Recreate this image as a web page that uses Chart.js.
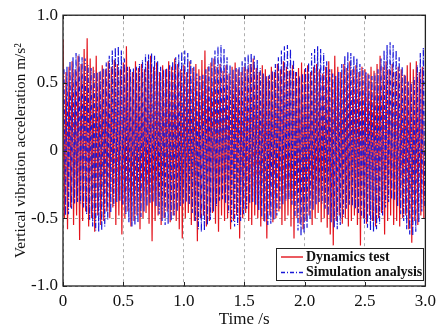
<!DOCTYPE html>
<html>
<head>
<meta charset="utf-8">
<script src="https://cdn.jsdelivr.net/npm/chart.js@4.4.1/dist/chart.umd.min.js"></script>
<style>
  body { margin: 0; background: #fff; }
  #wrap { width: 441px; height: 332px; }
</style>
</head>
<body>
<div id="wrap"><canvas id="myChart" width="441" height="332"></canvas></div>
<script>
// series names
var seriesNames = ['Dynamics test', 'Simulation analysis'];

// one oscillation cycle = 0.025 s, read as a peak then a trough
var cycle = 0.025;

// Dynamics test (red)
var testPeaks = [
    0.82, 0.58, 0.62, 0.66, 0.60, 0.70, 0.64, 0.75, 0.83, 0.68,
    0.62, 0.70, 0.58, 0.63, 0.60, 0.66, 0.62, 0.67, 0.64, 0.60,
    0.65, 0.77, 0.62, 0.58, 0.66, 0.61, 0.64, 0.60, 0.66, 0.70,
    0.62, 0.65, 0.58, 0.63, 0.60, 0.66, 0.62, 0.68, 0.64, 0.60,
    0.63, 0.58, 0.66, 0.61, 0.64, 0.60, 0.67, 0.74, 0.62, 0.65,
    0.68, 0.62, 0.64, 0.59, 0.63, 0.57, 0.62, 0.65, 0.60, 0.58,
    0.62, 0.60, 0.64, 0.68, 0.61, 0.58, 0.63, 0.60, 0.55, 0.62,
    0.58, 0.64, 0.60, 0.66, 0.62, 0.59, 0.63, 0.58, 0.61, 0.65,
    0.60, 0.63, 0.58, 0.62, 0.64, 0.60, 0.57, 0.62, 0.66, 0.60,
    0.70, 0.62, 0.58, 0.64, 0.61, 0.66, 0.60, 0.63, 0.58, 0.62,
    0.60, 0.57, 0.62, 0.59, 0.64, 0.70, 0.62, 0.66, 0.60, 0.64,
    0.58, 0.62, 0.60, 0.56, 0.63, 0.65, 0.60, 0.66, 0.58, 0.62
];
var testTroughs = [
    -0.50, -0.58, -0.42, -0.55, -0.48, -0.66, -0.52, -0.45, -0.56, -0.50,
    -0.60, -0.48, -0.55, -0.52, -0.45, -0.50, -0.42, -0.55, -0.48, -0.62,
    -0.50, -0.45, -0.56, -0.52, -0.48, -0.58, -0.50, -0.46, -0.54, -0.67,
    -0.52, -0.48, -0.55, -0.50, -0.45, -0.53, -0.48, -0.52, -0.58, -0.65,
    -0.50, -0.46, -0.55, -0.52, -0.67, -0.50, -0.48, -0.56, -0.52, -0.46,
    -0.54, -0.60, -0.48, -0.52, -0.50, -0.58, -0.52, -0.48, -0.65, -0.50,
    -0.46, -0.52, -0.55, -0.48, -0.50, -0.56, -0.52, -0.65, -0.48, -0.53,
    -0.50, -0.45, -0.55, -0.52, -0.48, -0.56, -0.65, -0.50, -0.54, -0.58,
    -0.52, -0.48, -0.55, -0.50, -0.46, -0.53, -0.50, -0.57, -0.62, -0.70,
    -0.52, -0.48, -0.54, -0.50, -0.56, -0.52, -0.48, -0.55, -0.70, -0.50,
    -0.54, -0.48, -0.52, -0.56, -0.50, -0.46, -0.62, -0.52, -0.48, -0.55,
    -0.52, -0.56, -0.50, -0.48, -0.58, -0.68, -0.52, -0.55, -0.48, -0.50
];

// Simulation analysis (blue)
var simPeaks = [
    0.60, 0.62, 0.66, 0.69, 0.72, 0.71, 0.69, 0.68, 0.63, 0.61,
    0.59, 0.58, 0.59, 0.61, 0.65, 0.70, 0.74, 0.76, 0.77, 0.74,
    0.68, 0.62, 0.60, 0.61, 0.62, 0.64, 0.67, 0.71, 0.71, 0.72,
    0.70, 0.66, 0.62, 0.60, 0.61, 0.63, 0.66, 0.69, 0.71, 0.73,
    0.74, 0.72, 0.67, 0.62, 0.57, 0.55, 0.56, 0.60, 0.64, 0.69,
    0.74, 0.77, 0.78, 0.75, 0.69, 0.63, 0.60, 0.61, 0.62, 0.66,
    0.69, 0.71, 0.72, 0.70, 0.67, 0.61, 0.57, 0.55, 0.56, 0.59,
    0.64, 0.69, 0.74, 0.77, 0.78, 0.75, 0.67, 0.58, 0.55, 0.57,
    0.61, 0.65, 0.72, 0.75, 0.77, 0.75, 0.72, 0.66, 0.60, 0.57,
    0.55, 0.58, 0.64, 0.70, 0.73, 0.72, 0.70, 0.68, 0.64, 0.61,
    0.58, 0.56, 0.55, 0.57, 0.60, 0.68, 0.74, 0.78, 0.80, 0.78,
    0.74, 0.69, 0.62, 0.56, 0.51, 0.50, 0.54, 0.63, 0.72, 0.76
];
var simTroughs = [
    -0.48, -0.47, -0.43, -0.39, -0.38, -0.39, -0.42, -0.47, -0.51, -0.56,
    -0.59, -0.60, -0.59, -0.56, -0.51, -0.46, -0.41, -0.38, -0.37, -0.40,
    -0.47, -0.53, -0.56, -0.55, -0.53, -0.49, -0.45, -0.41, -0.39, -0.38,
    -0.41, -0.47, -0.52, -0.55, -0.54, -0.52, -0.48, -0.45, -0.41, -0.39,
    -0.38, -0.40, -0.46, -0.52, -0.58, -0.60, -0.59, -0.55, -0.51, -0.45,
    -0.41, -0.37, -0.36, -0.39, -0.46, -0.53, -0.56, -0.55, -0.52, -0.47,
    -0.43, -0.39, -0.38, -0.40, -0.44, -0.49, -0.53, -0.55, -0.54, -0.51,
    -0.48, -0.43, -0.40, -0.37, -0.36, -0.40, -0.50, -0.59, -0.63, -0.61,
    -0.57, -0.51, -0.44, -0.40, -0.38, -0.39, -0.43, -0.48, -0.53, -0.57,
    -0.58, -0.55, -0.49, -0.43, -0.40, -0.41, -0.43, -0.46, -0.50, -0.54,
    -0.57, -0.59, -0.60, -0.58, -0.54, -0.48, -0.42, -0.38, -0.36, -0.37,
    -0.41, -0.47, -0.52, -0.58, -0.62, -0.63, -0.60, -0.53, -0.45, -0.42
];

// ticks
var xTicks = [0, 0.5, 1.0, 1.5, 2.0, 2.5, 3.0];
var xTickLabels = ['0', '0.5', '1.0', '1.5', '2.0', '2.5', '3.0'];
var yTicks = [-1.0, -0.5, 0, 0.5, 1.0];
var yTickLabels = ['-1.0', '-0.5', '0', '0.5', '1.0'];

var redColor = '#e3141c';
var blueColor = '#1818d8';
var serif = "'Liberation Serif', 'Times New Roman', serif";

function buildSeries(peaks, troughs, shift) {
    var pts = [];
    for (var i = 0; i < peaks.length; i++) {
        pts.push({ x: i * cycle + shift, y: peaks[i] });
        pts.push({ x: i * cycle + shift + cycle / 2, y: troughs[i] });
    }
    return pts;
}

// frame, inner tick marks and the boxed legend
var framePlugin = {
    id: 'frame',
    afterDraw: function (chart) {
        var ctx = chart.ctx;
        var a = chart.chartArea;
        var xs = chart.scales.x, ys = chart.scales.y;
        ctx.save();
        ctx.strokeStyle = '#222';
        ctx.lineWidth = 1.3;
        ctx.setLineDash([]);
        ctx.strokeRect(a.left, a.top, a.right - a.left, a.bottom - a.top);
        ctx.lineWidth = 1;
        ctx.beginPath();
        xTicks.forEach(function (v) {
            var px = Math.round(xs.getPixelForValue(v)) + 0.5;
            ctx.moveTo(px, a.bottom); ctx.lineTo(px, a.bottom - 4);
            ctx.moveTo(px, a.top); ctx.lineTo(px, a.top + 4);
        });
        yTicks.forEach(function (v) {
            var py = Math.round(ys.getPixelForValue(v)) + 0.5;
            ctx.moveTo(a.left, py); ctx.lineTo(a.left + 4, py);
            ctx.moveTo(a.right, py); ctx.lineTo(a.right - 4, py);
        });
        ctx.stroke();

        // legend
        var bx = 276, by = 248, bw = 147, bh = 32;
        ctx.fillStyle = '#fff';
        ctx.fillRect(bx, by, bw, bh);
        ctx.strokeStyle = '#222';
        ctx.strokeRect(bx + 0.5, by + 0.5, bw, bh);
        var rows = [
            { name: seriesNames[0], color: redColor, dash: [] },
            { name: seriesNames[1], color: blueColor, dash: [4, 2, 1, 2] }
        ];
        ctx.font = 'bold 14px ' + serif;
        ctx.textBaseline = 'middle';
        rows.forEach(function (r, k) {
            var ly = by + 9 + k * 15.5;
            ctx.strokeStyle = r.color;
            ctx.lineWidth = 1.4;
            ctx.setLineDash(r.dash);
            ctx.beginPath();
            ctx.moveTo(bx + 5, ly);
            ctx.lineTo(bx + 27, ly);
            ctx.stroke();
            ctx.fillStyle = '#111';
            ctx.fillText(r.name, bx + 30, ly);
        });
        ctx.restore();
    }
};

var ctx = document.getElementById('myChart').getContext('2d');
var myChart = new Chart(ctx, {
    type: 'line',
    data: {
        datasets: [{
            label: seriesNames[0],
            data: buildSeries(testPeaks, testTroughs, 0),
            borderColor: redColor,
            borderWidth: 1.2,
            pointRadius: 0,
            tension: 0,
            order: 1
        }, {
            label: seriesNames[1],
            data: buildSeries(simPeaks, simTroughs, 0.008),
            borderColor: blueColor,
            borderWidth: 1.2,
            borderDash: [5, 2, 1, 2],
            pointRadius: 0,
            tension: 0,
            order: 0
        }]
    },
    options: {
        responsive: false,
        animation: false,
        layout: { padding: { top: 12, right: 14, left: 0, bottom: 0 } },
        plugins: {
            legend: { display: false },
            tooltip: { enabled: false }
        },
        scales: {
            x: {
                type: 'linear',
                min: 0,
                max: 3,
                afterBuildTicks: function (s) { s.ticks = xTicks.map(function (v) { return { value: v }; }); },
                afterFit: function (s) { s.height = 46; },
                ticks: {
                    autoSkip: false,
                    maxRotation: 0,
                    padding: 5,
                    color: '#111',
                    font: { family: serif, size: 17 },
                    callback: function (v, i) { return xTickLabels[i]; }
                },
                grid: { color: '#9a9a9a', lineWidth: 0.8, drawTicks: false },
                border: { display: false, dash: [3, 3] },
                title: {
                    display: true,
                    text: 'Time /s',
                    color: '#111',
                    padding: { top: 0, bottom: 2 },
                    font: { family: serif, size: 17 }
                }
            },
            y: {
                min: -1,
                max: 1,
                afterBuildTicks: function (s) { s.ticks = yTicks.map(function (v) { return { value: v }; }); },
                afterFit: function (s) { s.width = 63; },
                ticks: {
                    autoSkip: false,
                    padding: 5,
                    color: '#111',
                    font: { family: serif, size: 17 },
                    callback: function (v, i) { return yTickLabels[i]; }
                },
                grid: { color: '#9a9a9a', lineWidth: 0.8, drawTicks: false },
                border: { display: false, dash: [3, 3] },
                title: {
                    display: true,
                    text: 'Vertical vibration acceleration m/s\u00b2',
                    color: '#111',
                    padding: { top: 12, bottom: 0 },
                    font: { family: serif, size: 15.3 }
                }
            }
        }
    },
    plugins: [framePlugin]
});
</script>
</body>
</html>
